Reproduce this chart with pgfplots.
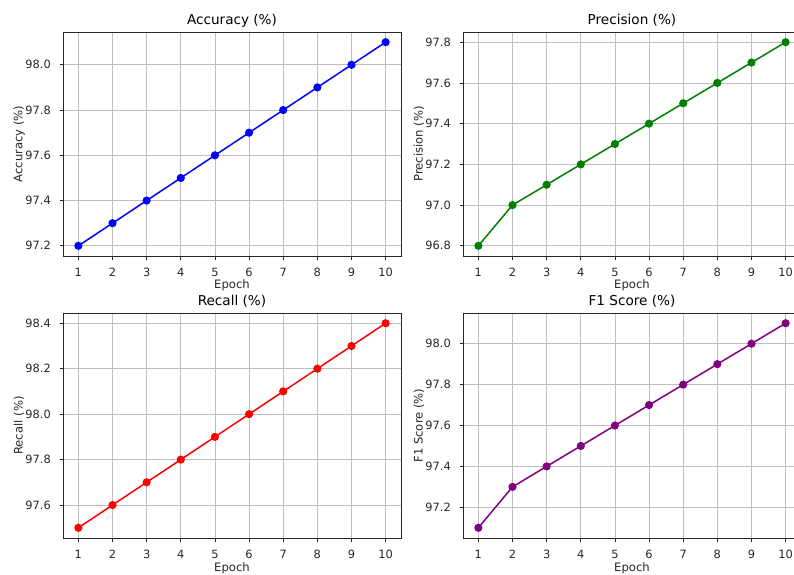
\documentclass[border=0pt]{standalone}
\usepackage{pgfplots}
\pgfplotsset{compat=1.18}
\usepackage{fontspec}
\setmainfont{DejaVu Sans}
\definecolor{mgreen}{RGB}{0,128,0}
\definecolor{mpurple}{RGB}{128,0,128}
\definecolor{gridc}{RGB}{190,190,190}
\pgfplotsset{
  mystyle/.style={
    scale only axis, width=338pt, height=224pt,
    xmin=0.55, xmax=10.45, xtick={1,2,3,4,5,6,7,8,9,10},
    xtick pos=lower, ytick pos=left,
    grid=major, major grid style={color=gridc, line width=0.75pt},
    axis line style={line width=0.8pt, black!85},
    tick align=outside, major tick length=3.5pt,
    tick style={black!85, line width=0.8pt},
    /pgf/number format/assume math mode=true,
    tick label style={font=\fontsize{11.4}{13}\selectfont, black!85},
    y tick label style={/pgf/number format/.cd, fixed, fixed zerofill, precision=1, /tikz/.cd},
    xticklabel style={anchor=base, yshift=-17pt},
    yticklabel style={anchor=east, inner sep=0pt, xshift=-8.5pt},
    xlabel=Epoch,
    xlabel style={at={(axis description cs:0.5,-0.133)}, anchor=center, font=\fontsize{11.6}{13}\selectfont, black!85},
    ylabel style={at={(axis description cs:-0.130,0.5)}, anchor=center, font=\fontsize{11.6}{13}\selectfont, black!85},
    every axis title/.style={at={(axis description cs:0.5,1)}, anchor=base, yshift=7.5pt, font=\fontsize{13.6}{15}\selectfont},
    every axis plot/.append style={line width=1.5pt, mark=*, mark size=3.3pt},
  }
}
\begin{document}
\begin{tikzpicture}
\begin{axis}[mystyle, at={(63pt,318pt)}, anchor=south west,
  title={Accuracy (\%)}, ylabel={Accuracy (\%)},
  ymin=97.155, ymax=98.145, ytick={97.2,97.4,97.6,97.8,98.0}]
\addplot[color=blue, mark options={fill=blue, draw=blue}] coordinates {
(1,97.2) (2,97.3) (3,97.4) (4,97.5) (5,97.6) (6,97.7) (7,97.8) (8,97.9) (9,98.0) (10,98.1)};
\end{axis}
\begin{axis}[mystyle, at={(463pt,318pt)}, anchor=south west,
  title={Precision (\%)}, ylabel={Precision (\%)},
  ymin=96.75, ymax=97.85, ytick={96.8,97.0,97.2,97.4,97.6,97.8}]
\addplot[color=mgreen, mark options={fill=mgreen, draw=mgreen}] coordinates {
(1,96.8) (2,97.0) (3,97.1) (4,97.2) (5,97.3) (6,97.4) (7,97.5) (8,97.6) (9,97.7) (10,97.8)};
\end{axis}
\begin{axis}[mystyle, at={(63pt,36pt)}, anchor=south west, height=225pt,
  title={Recall (\%)}, ylabel={Recall (\%)},
  ymin=97.455, ymax=98.445, ytick={97.6,97.8,98.0,98.2,98.4}]
\addplot[color=red, mark options={fill=red, draw=red}] coordinates {
(1,97.5) (2,97.6) (3,97.7) (4,97.8) (5,97.9) (6,98.0) (7,98.1) (8,98.2) (9,98.3) (10,98.4)};
\end{axis}
\begin{axis}[mystyle, at={(463pt,36pt)}, anchor=south west, height=225pt,
  title={F1 Score (\%)}, ylabel={F1 Score (\%)},
  ymin=97.05, ymax=98.15, ytick={97.2,97.4,97.6,97.8,98.0}]
\addplot[color=mpurple, mark options={fill=mpurple, draw=mpurple}] coordinates {
(1,97.1) (2,97.3) (3,97.4) (4,97.5) (5,97.6) (6,97.7) (7,97.8) (8,97.9) (9,98.0) (10,98.1)};
\end{axis}
\pgfresetboundingbox
\useasboundingbox (0pt,0pt) rectangle (794pt,574pt);
\end{tikzpicture}
\end{document}
